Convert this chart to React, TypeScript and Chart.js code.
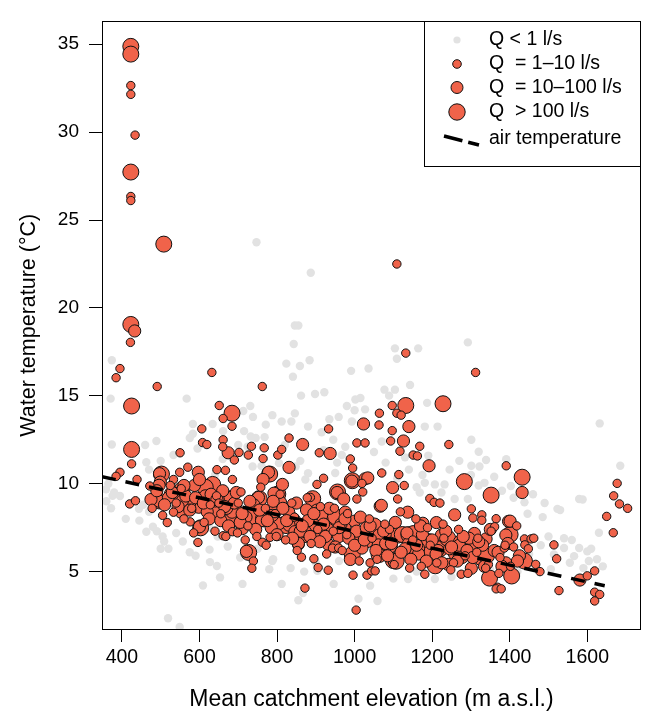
import React, { useEffect, useRef } from "react";
import { Chart, registerables } from "chart.js";

Chart.register(...registerables);

const FONT = "'Liberation Sans', Arial, Helvetica, sans-serif";

const xTicks = [400, 600, 800, 1000, 1200, 1400, 1600];
const yTicks = [5, 10, 15, 20, 25, 30, 35];

const legendLabels = ["Q < 1 l/s", "Q  = 1\u201310 l/s", "Q  = 10\u2013100 l/s", "Q  > 100 l/s", "air temperature"];

// Q < 1 l/s (grey)
const grayX = [374, 843, 824, 884, 859, 841, 991, 371, 567, 862, 898, 922, 980, 1002, 1000, 731, 713, 738, 788, 846, 812, 837, 935, 959, 993, 880, 915, 583, 634, 661, 715, 732, 771, 768, 583, 489, 374, 463, 533, 724, 737, 805, 848, 873, 950, 976, 967, 359, 376, 444, 480, 463, 509, 500, 557, 626, 647, 673, 627, 645, 653, 711, 788, 780, 812, 855, 867, 946, 1010, 609, 519, 549, 904, 1002,
  1292, 1104, 1164, 1109, 1036, 1143, 1077, 1104, 1089, 1015, 1187, 1027, 1181, 1214, 1301, 1320, 1339, 1322, 1391, 1301, 1181, 1207, 1232, 1168, 1224, 1258, 1292, 1335, 1403, 1438, 1446, 1485, 1523, 1579, 1632, 1685, 1630, 1540, 1579, 1566, 1600, 1604, 1514, 1506, 1059, 1207, 1138,
  747, 887, 846, 855,
  360, 365, 372, 380, 395, 410, 445, 455, 470, 490, 505, 520, 540, 575, 590, 625, 705, 750, 790, 835, 870, 900, 960, 1040, 1100, 1160, 1250, 1300, 1350, 1420, 1450, 1480, 1500, 1540, 1555, 1590, 1610, 1625, 1640, 1560,
  1110, 1140, 1160, 1175, 1190, 1245, 1270, 1300, 1320, 1360, 1380, 1410, 1460, 1490,
  860, 880, 920, 945, 955, 1050, 1070, 1080, 1130,
  640, 660, 700, 745, 760, 780, 820, 595, 575, 500, 460, 470, 1530, 1588];
const grayY = [17.02, 17.95, 16.83, 17.02, 16.7, 16.09, 16.42, 14.84, 14.84, 15.01, 15.1, 15.2, 14.42, 14.79, 14.18, 14.42, 14.14, 13.8, 13.9, 14.0, 13.54, 13.54, 13.67, 13.8, 13.54, 13.25, 12.93, 13.4, 13.4, 12.99, 12.99, 12.69, 13.36, 12.65, 12.84, 12.43, 12.23, 11.22, 11.63, 12.1, 10.98, 11.17, 10.98, 10.24, 10.61, 12.1, 11.63, 9.68, 9.31, 8.57, 7.55, 7.27, 6.71, 6.3, 6.71, 6.25, 6.99, 6.43, 5.54, 5.32, 4.67, 4.3, 5.6, 5.13, 4.3, 3.37, 3.78, 4.3, 3.46, 4.21, 2.35, 1.85, 5.04, 7.64,
  18.04, 17.7, 17.7, 17.11, 16.55, 15.62, 15.35, 15.35, 15.01, 14.88, 14.6, 14.23, 13.25, 13.25, 12.5, 11.82, 11.35, 10.98, 11.39, 11.02, 10.05, 9.96, 9.96, 9.5, 9.5, 9.13, 9.13, 10.05, 9.87, 8.94, 8.29, 8.1, 8.57, 9.13, 13.43, 11.02, 7.21, 6.34, 6.34, 5.88, 6.15, 5.6, 5.97, 5.13, 3.33, 4.58, 4.58,
  23.74, 22.0, 19.0, 19.0,
  9.0, 10.0, 8.6, 9.5, 9.3, 8.0, 7.9, 8.8, 8.4, 7.3, 7.0, 6.3, 7.2, 6.1, 5.9, 7.5, 5.8, 6.3, 5.7, 5.2, 5.0, 5.5, 5.6, 4.2, 4.6, 5.0, 4.7, 5.5, 5.1, 5.0, 6.0, 6.5, 7.0, 6.9, 5.5, 5.2, 6.3, 5.7, 5.3, 6.8,
  10.3, 10.8, 9.8, 10.5, 11.6, 10.8, 11.3, 10.5, 9.9, 10.4, 9.6, 9.2, 9.4, 8.9,
  11.3, 10.6, 11.9, 12.5, 11.2, 11.8, 12.4, 11.2, 11.5,
  10.5, 11.4, 12.2, 12.6, 11.0, 10.3, 12.2, 12.0, 12.6, 11.3, 12.2, 10.8, 8.5, 9.1];

// Q = 1-10 l/s (small)
const smallX = [423, 423, 434, 423, 423, 422, 395, 385, 491, 632, 762, 651, 661, 684, 606, 608, 619, 661, 660, 690, 702, 726, 734, 767, 764, 831, 802, 812, 933, 909, 550, 425, 395, 385, 439, 472, 420, 435, 533, 549, 553, 570, 533, 517, 576, 596, 645, 667, 644, 685, 707, 655, 685, 661, 739, 735, 762, 782, 863, 872, 895, 906, 932, 886, 903, 920, 995, 989, 1006, 1027, 1006, 996, 1032, 1004, 943, 959,
  1132, 1312, 1097, 1064, 1109, 1120, 1063, 1097, 1093, 1168, 1117, 1243, 1151, 1162, 1391, 1070, 1114, 1128, 1021, 1019, 1111, 1194, 1205, 1220, 1301, 1305, 1328, 1328, 1365, 1438, 1455, 1439, 1361, 1514, 1521, 1467, 1369, 1365, 1378, 1527, 1619, 1600, 1619, 1632, 1619, 1677, 1668, 1683, 1704, 1650, 1667, 1275, 1181, 1044, 1040, 1053, 1386, 1109,
  540, 580, 650, 700, 725, 770, 795, 845, 905, 945, 980, 1045, 1090, 1150, 1195, 1230, 1255, 1285, 1315, 1345, 1375, 1410,
  478, 505, 525, 560, 585, 612, 628, 640, 668, 698, 718, 748, 758, 772, 798, 808, 822, 838, 852, 878, 888, 912, 928, 948, 968, 982, 1012, 1038, 1058, 1078, 1102, 1118, 1142, 1158, 1172, 1188, 1212, 1228, 1248, 1268, 1292, 1318, 1338, 1352, 1372, 1388, 1402, 1418, 1448, 1462, 1478];
const smallY = [32.65, 32.15, 29.83, 26.34, 26.11, 18.04, 16.55, 16.03, 15.53, 16.33, 15.53, 14.45, 13.71, 13.27, 13.12, 12.34, 12.23, 12.5, 12.1, 11.35, 11.78, 11.63, 12.13, 12.04, 11.43, 12.6, 11.63, 11.95, 13.12, 11.76, 11.76, 11.13, 10.65, 10.42, 10.24, 9.87, 8.85, 9.03, 10.24, 10.65, 9.72, 10.94, 8.38, 7.79, 7.83, 6.66, 10.8, 10.76, 9.31, 10.24, 9.53, 8.29, 7.27, 7.04, 5.6, 5.19, 6.67, 6.95, 5.82, 4.06, 5.73, 5.23, 5.08, 9.22, 9.96, 10.31, 10.89, 11.41, 12.32, 12.32, 9.13, 4.8, 4.8, 2.81, 6.34, 6.34,
  17.43, 16.33, 14.45, 14.01, 14.01, 13.9, 13.34, 13.02, 12.43, 12.13, 11.85, 12.23, 11.63, 11.58, 11.02, 10.61, 10.52, 9.9, 9.53, 10.02, 9.13, 9.16, 8.94, 8.9, 8.57, 8.05, 8.23, 7.92, 8.01, 6.86, 6.86, 6.52, 7.55, 6.52, 5.73, 5.41, 4.11, 4.02, 4.02, 3.92, 5.04, 4.76, 3.83, 3.7, 3.33, 10.02, 9.31, 8.85, 8.6, 8.14, 7.21, 4.85, 4.85, 5.04, 5.5, 5.04, 6.34, 22.5,
  8.9, 8.6, 8.9, 8.9, 7.6, 8.6, 8.3, 8.1, 7.4, 7.3, 7.1, 6.9, 7.4, 6.8, 6.5, 6.9, 5.5, 5.9, 6.1, 5.4, 5.8, 6.4,
  8.6, 8.2, 9.9, 8.0, 7.2, 7.8, 8.8, 7.3, 7.0, 7.2, 6.8, 7.0, 9.8, 6.5, 7.0, 9.4, 6.8, 8.9, 6.2, 9.2, 6.6, 8.7, 6.0, 8.6, 6.2, 8.3, 5.6, 8.0, 5.7, 7.7, 5.4, 8.4, 5.2, 8.0, 5.3, 7.5, 5.5, 7.7, 5.1, 7.4, 4.9, 6.9, 5.2, 7.3, 4.9, 6.5, 5.3, 7.6, 6.3, 6.9, 5.0];

// Q = 10-100 l/s (medium)
const medX = [433, 674, 866, 937, 831, 778, 497, 499, 483, 497, 597, 587, 600, 556, 553, 600, 615, 679, 752, 764, 792, 814, 809, 720, 681, 711, 721, 855, 955, 972, 993, 1023, 1027, 976, 959, 989, 1010, 831, 805, 788, 846, 873, 908, 933,
  1140, 1126, 1192, 1432, 1034, 1098, 1066, 1258, 1137, 1397, 1390, 1339, 1581, 1151, 1211, 1309, 1271, 1241, 1301, 1063, 1061, 1019, 1224,
  496, 641, 684, 855, 876, 1000, 1069, 1139, 1401, 1176,
  520, 565, 620, 630, 660, 670, 690, 705, 740, 760, 785, 830, 860, 880, 915, 925, 965, 1005, 1030, 1080, 1130, 1165, 1175, 1215, 1245, 1270, 1295, 1330, 1360, 1390, 1425,
  475, 490, 510, 530, 545, 560, 575, 590, 610, 625, 645, 655, 665, 675, 695, 710, 730, 745, 755, 775, 790, 800, 815, 825, 840, 850, 865, 885, 895, 910, 920, 935, 950, 960, 975, 985, 1000, 1015, 1025, 1040, 1055, 1075, 1085, 1095, 1105, 1120, 1135, 1145, 1160, 1170, 1185, 1200, 1210, 1225, 1235, 1250, 1265, 1280, 1290, 1305, 1320, 1335, 1350, 1370, 1380, 1395, 1420];
const medY = [18.69, 11.76, 12.23, 11.72, 10.93, 10.65, 10.57, 10.09, 9.03, 9.0, 10.65, 9.9, 10.24, 9.03, 8.38, 7.55, 9.31, 9.22, 9.22, 10.24, 9.46, 9.96, 8.94, 8.1, 8.01, 7.45, 6.15, 6.56, 9.5, 9.13, 10.15, 13.4, 10.28, 8.38, 6.99, 5.69, 6.75, 7.64, 7.73, 8.2, 7.27, 7.27, 6.9, 6.53,
  13.25, 12.43, 11.02, 9.5, 10.33, 9.78, 8.72, 8.23, 8.38, 7.86, 7.08, 6.86, 4.52, 7.27, 7.79, 7.17, 6.71, 5.41, 5.19, 7.08, 6.52, 6.34, 7.08,
  9.91, 9.02, 8.38, 6.6, 8.51, 7.87, 8.77, 6.6, 7.87, 7.75,
  9.2, 9.3, 8.4, 9.4, 9.6, 8.6, 8.9, 7.8, 8.8, 7.9, 7.5, 8.4, 7.3, 7.9, 8.2, 7.0, 7.7, 7.3, 7.5, 6.6, 6.3, 6.0, 7.1, 6.2, 6.3, 6.5, 6.9, 6.5, 6.2, 5.5, 5.9,
  9.1, 9.6, 8.8, 9.5, 8.7, 9.9, 8.5, 9.2, 8.9, 8.0, 9.1, 7.9, 8.7, 7.6, 9.5, 8.3, 9.0, 7.4, 8.5, 7.9, 9.0, 7.1, 8.6, 7.9, 6.9, 8.9, 7.6, 7.0, 8.3, 6.7, 7.7, 8.6, 6.4, 7.5, 8.0, 6.9, 6.5, 8.1, 6.8, 7.6, 6.2, 7.3, 5.9, 6.6, 7.8, 6.1, 7.2, 5.7, 6.5, 7.6, 5.6, 6.8, 6.0, 5.5, 7.3, 6.4, 5.6, 7.0, 6.2, 5.8, 6.7, 5.3, 7.4, 6.1, 5.3, 6.6, 5.6];

// Q > 100 l/s (large)
const largeX = [423, 423, 423, 508, 423, 425, 684, 425, 634, 745, 818, 892, 942, 1132, 1228, 1432, 1283, 1181, 1207, 1262, 1328, 1113, 1100, 1190,
  502, 496, 555, 598, 603, 678, 716, 737, 727, 754, 781, 802, 823, 898, 892, 951, 956, 994, 1016, 994, 1063, 1074, 1107, 1123, 1198, 1208, 1352, 1401, 1405, 1348, 1438,
  530, 570, 615, 650, 690, 705, 765, 790, 840, 870, 905, 930, 970, 1030, 1050, 1090, 1140, 1160, 1220, 1240, 1275, 1300, 1340];
const largeY = [34.88, 34.44, 27.73, 23.63, 19.06, 14.42, 14.01, 11.95, 9.96, 8.23, 7.68, 7.68, 8.05, 14.45, 14.55, 10.37, 10.12, 6.38, 5.78, 6.06, 5.78, 7.08, 5.63, 6.71,
  10.55, 9.02, 9.66, 8.77, 7.49, 9.15, 8.13, 8.13, 6.09, 9.15, 10.55, 9.41, 7.62, 7.75, 9.15, 8.13, 9.53, 10.17, 6.73, 5.97, 5.97, 7.11, 5.59, 7.11, 6.09, 5.33, 9.35, 7.11, 4.75, 4.63, 5.6,
  9.4, 8.9, 9.8, 8.5, 8.6, 7.9, 8.0, 8.4, 7.9, 7.1, 8.4, 7.3, 7.5, 6.8, 7.6, 6.5, 7.1, 6.3, 6.3, 6.9, 5.9, 6.4, 5.9];

// air temperature line (endpoints)
const airX = [348.7, 1645];
const airY = [10.4, 4.2];

const RED = "#F0634A";
const GREY = "#E2E2E2";

function pts(xs: number[], ys: number[]) {
  return xs.map((x, i) => ({ x, y: ys[i] }));
}

const frameLegendPlugin = {
  id: "frameLegend",
  afterDatasetsDraw(chart: any) {
    const { ctx, chartArea } = chart;
    const { left, top, right, bottom } = chartArea;
    ctx.save();
    ctx.strokeStyle = "#000";
    ctx.lineWidth = 1;
    ctx.strokeRect(Math.round(left) + 0.5, Math.round(top) + 0.5, Math.round(right - left) - 1, Math.round(bottom - top));

    const bw = 217;
    const bh = 145;
    const bx = Math.round(right) - bw;
    const by = Math.round(top);
    ctx.fillStyle = "#fff";
    ctx.fillRect(bx, by, bw, bh);
    ctx.strokeRect(bx + 0.5, by + 0.5, bw - 1, bh);

    const sx = bx + 33;
    const tx = bx + 65;
    const rows = [19, 43, 66.5, 91, 118];
    const radii = [3.6, 4.3, 6, 8.2];
    for (let i = 0; i < 4; i++) {
      ctx.beginPath();
      ctx.arc(sx, by + rows[i], radii[i], 0, Math.PI * 2);
      ctx.fillStyle = i === 0 ? GREY : RED;
      ctx.fill();
      if (i > 0) {
        ctx.strokeStyle = "#111";
        ctx.lineWidth = 1;
        ctx.stroke();
      }
    }
    ctx.beginPath();
    ctx.setLineDash([19, 6]);
    ctx.lineWidth = 3.5;
    ctx.strokeStyle = "#000";
    ctx.moveTo(bx + 20, by + rows[4] - 3);
    ctx.lineTo(bx + 55, by + rows[4] + 6);
    ctx.stroke();
    ctx.setLineDash([]);

    ctx.fillStyle = "#000";
    ctx.font = `19.5px ${FONT}`;
    ctx.textBaseline = "middle";
    ctx.textAlign = "left";
    legendLabels.forEach((t, i) => ctx.fillText(t, tx, by + rows[i]));
    ctx.restore();
  },
};

export default function App() {
  const ref = useRef<HTMLCanvasElement | null>(null);

  useEffect(() => {
    if (!ref.current) return;
    const pointDs = (label: string, xs: number[], ys: number[], r: number, bg: string, border: number) => ({
      type: "scatter" as const,
      label,
      data: pts(xs, ys),
      pointRadius: r,
      pointHoverRadius: r,
      pointBackgroundColor: bg,
      pointBorderColor: "#111",
      pointBorderWidth: border,
      showLine: false,
    });
    const chart = new Chart(ref.current, {
      type: "scatter",
      data: {
        datasets: [
          {
            type: "line",
            label: "air temperature",
            data: pts(airX, airY),
            borderColor: "#000",
            borderWidth: 3.5,
            borderDash: [14, 10],
            pointRadius: 0,
            fill: false,
            showLine: true,
          } as any,
          pointDs("small", smallX, smallY, 4.2, RED, 1),
          pointDs("medium", medX, medY, 6.1, RED, 1),
          pointDs("large", largeX, largeY, 8, RED, 1),
          pointDs("grey", grayX, grayY, 4.2, GREY, 0),
        ],
      },
      options: {
        responsive: false,
        maintainAspectRatio: false,
        animation: false,
        events: [],
        layout: { padding: { left: 0, top: 9, right: 6, bottom: 0 } },
        plugins: { legend: { display: false }, tooltip: { enabled: false } },
        scales: {
          x: {
            type: "linear",
            min: 348.7,
            max: 1738.5,
            afterBuildTicks: (s: any) => {
              s.ticks = xTicks.map((v) => ({ value: v }));
            },
            afterFit: (s: any) => {
              s.height = 88;
            },
            grid: { display: true, drawOnChartArea: false, drawTicks: true, tickLength: 13, color: "#000", tickColor: "#000", lineWidth: 1 },
            border: { display: false },
            ticks: { color: "#000", font: { family: FONT, size: 19.5 }, padding: 4, maxRotation: 0, autoSkip: false, callback: (v: any) => String(v) },
            title: {
              display: true,
              text: "Mean catchment elevation (m a.s.l.)",
              color: "#000",
              font: { family: FONT, size: 23 },
              padding: { top: 0, bottom: 4 },
            },
          },
          y: {
            type: "linear",
            min: 1.735,
            max: 36.3,
            afterBuildTicks: (s: any) => {
              s.ticks = yTicks.map((v) => ({ value: v }));
            },
            afterFit: (s: any) => {
              s.width = 102;
            },
            grid: { display: true, drawOnChartArea: false, drawTicks: true, tickLength: 13, color: "#000", tickColor: "#000", lineWidth: 1 },
            border: { display: false },
            ticks: { color: "#000", font: { family: FONT, size: 19 }, padding: 10, autoSkip: false, callback: (v: any) => String(v) },
            title: {
              display: true,
              text: "Water temperature (\u00B0C)",
              color: "#000",
              font: { family: FONT, size: 21.5 },
              padding: { top: 16, bottom: 0 },
            },
          },
        },
      },
      plugins: [frameLegendPlugin],
    } as any);
    return () => chart.destroy();
  }, []);

  return (
    <div style={{ position: "absolute", left: 0, top: 0, width: 650, height: 717, background: "#fff" }}>
      <canvas ref={ref} width={650} height={717} style={{ width: 650, height: 717, display: "block" }} />
    </div>
  );
}
